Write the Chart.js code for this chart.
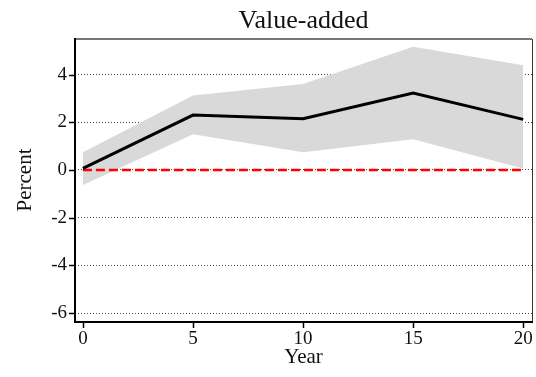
<!DOCTYPE html>
<html>
<head>
<meta charset="utf-8">
<script src="https://cdn.jsdelivr.net/npm/chart.js@4/dist/chart.umd.min.js"></script>
<style>
html,body{margin:0;padding:0;background:#fff;}
#wrap{width:536px;height:377px;position:relative;}
</style>
</head>
<body>
<div id="wrap"><canvas id="c" width="536" height="377"></canvas></div>
<script>
const chartTitle = 'Value-added';
const xAxisTitle = 'Year';
const yAxisTitle = 'Percent';
const years = [0, 5, 10, 15, 20];
const estimate = [0.07, 2.3, 2.15, 3.23, 2.12];
const upperBand = [0.74, 3.12, 3.6, 5.17, 4.39];
const lowerBand = [-0.63, 1.5, 0.74, 1.29, 0.06];
const zeroLine = [0, 0, 0, 0, 0];
const xTicks = [0, 5, 10, 15, 20];
const yTicks = [-6, -4, -2, 0, 2, 4];

const SERIF = "Liberation Serif";
Chart.defaults.font.family = SERIF;
Chart.defaults.color = '#111';
const pts = arr => years.map((x, i) => ({x: x, y: arr[i]}));

const framePlugin = {
  id: 'frame',
  afterDraw(chart) {
    const {ctx, chartArea: a, scales} = chart;
    ctx.save();
    ctx.setLineDash([]);
    ctx.strokeStyle = '#777';
    ctx.lineWidth = 2;
    ctx.beginPath(); ctx.moveTo(a.left, a.top); ctx.lineTo(a.right, a.top); ctx.stroke();
    ctx.strokeStyle = '#333';
    ctx.lineWidth = 1;
    ctx.beginPath(); ctx.moveTo(a.right + 0.5, a.top); ctx.lineTo(a.right + 0.5, a.bottom); ctx.stroke();
    ctx.strokeStyle = '#000';
    ctx.lineWidth = 2;
    ctx.beginPath(); ctx.moveTo(a.left, a.top - 1); ctx.lineTo(a.left, a.bottom + 1); ctx.lineTo(a.right + 1, a.bottom + 1); ctx.stroke();
    ctx.lineWidth = 1.5;
    yTicks.forEach(v => {
      const y = Math.round(scales.y.getPixelForValue(v)) + 0.5;
      ctx.beginPath(); ctx.moveTo(a.left - 6, y); ctx.lineTo(a.left, y); ctx.stroke();
    });
    xTicks.forEach(v => {
      const x = Math.round(scales.x.getPixelForValue(v)) + 0.5;
      ctx.beginPath(); ctx.moveTo(x, a.bottom + 1); ctx.lineTo(x, a.bottom + 7); ctx.stroke();
    });
    ctx.fillStyle = '#111';
    ctx.font = '26px "Liberation Serif", serif';
    ctx.textAlign = 'center';
    ctx.textBaseline = 'alphabetic';
    ctx.fillText(chartTitle, (a.left + a.right) / 2, 28);
    ctx.restore();
  }
};

new Chart(document.getElementById('c'), {
  type: 'line',
  data: {
    datasets: [
      {label: 'Estimate', data: pts(estimate), borderColor: '#000', borderWidth: 3, pointRadius: 0, fill: false, order: 1, tension: 0},
      {label: 'Zero', data: pts(zeroLine), borderColor: '#ff0000', borderWidth: 2.5, borderDash: [9, 4], pointRadius: 0, fill: false, order: 2},
      {label: 'Upper', data: pts(upperBand), borderWidth: 0, borderColor: 'rgba(0,0,0,0)', backgroundColor: '#d9d9d9', pointRadius: 0, fill: '+1', order: 3},
      {label: 'Lower', data: pts(lowerBand), borderWidth: 0, borderColor: 'rgba(0,0,0,0)', pointRadius: 0, fill: false, order: 4}
    ]
  },
  options: {
    responsive: false,
    animation: false,
    devicePixelRatio: 1,
    layout: {padding: {top: 39, right: 4, left: 0, bottom: 0}},
    plugins: {legend: {display: false}, tooltip: {enabled: false}, title: {display: false}},
    scales: {
      x: {
        type: 'linear',
        min: -0.36, max: 20.4,
        afterBuildTicks: s => { s.ticks = xTicks.map(v => ({value: v})); },
        afterFit: s => { s.height = 56; s.paddingLeft = 0; s.paddingRight = 0; },
        grid: {display: false, drawTicks: false},
        border: {display: false},
        ticks: {color: '#111', font: {family: SERIF, size: 19, weight: 'normal'}, padding: 7, maxRotation: 0, autoSkip: false},
        title: {display: true, text: xAxisTitle, color: '#111', font: {family: SERIF, size: 21}, padding: {top: 0, bottom: 7}}
      },
      y: {
        type: 'linear',
        min: -6.33, max: 5.49,
        afterBuildTicks: s => { s.ticks = yTicks.map(v => ({value: v})); },
        afterFit: s => { s.width = 75; },
        grid: {display: true, drawTicks: false, color: '#444', lineWidth: 1},
        border: {display: false, dash: [1, 2]},
        ticks: {color: '#111', font: {family: SERIF, size: 19, weight: 'normal'}, padding: 8},
        title: {display: true, text: yAxisTitle, color: '#111', font: {family: SERIF, size: 21}, padding: {top: 13, bottom: 0}}
      }
    }
  },
  plugins: [framePlugin]
});
</script>
</body>
</html>
